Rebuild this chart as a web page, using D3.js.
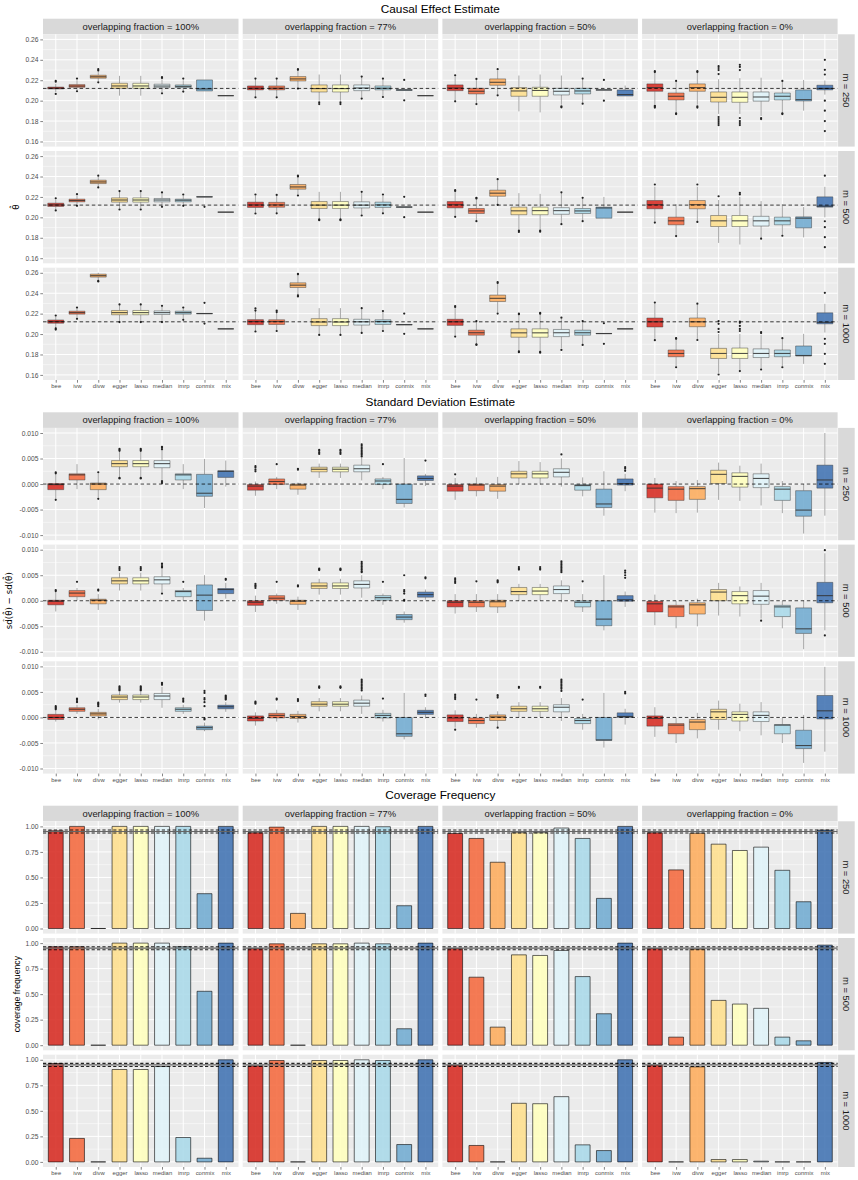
<!DOCTYPE html>
<html><head><meta charset="utf-8">
<script src="https://cdn.jsdelivr.net/npm/d3@7"></script>
<style>body{margin:0;background:#fff} svg{display:block;font-family:"Liberation Sans",Arial,Helvetica,sans-serif}</style>
</head><body><svg id="c" width="858" height="1180"></svg>
<script>
// ---------- categories ----------
const methods = ["bee","ivw","divw","egger","lasso","median","imrp","conmix","mix"];
const fractions = ["100%","77%","50%","0%"];
const mLabels = ["250","500","1000"];
const palette = ["#d73027","#f46d43","#fdae61","#fee090","#ffffbf","#e0f3f8","#abd9e9","#74add1","#4575b4"];
const sectionTitles = ["Causal Effect Estimate","Standard Deviation Estimate","Coverage Frequency"];

// ---------- tick labels ----------
const estTicks = [0.16,0.18,0.20,0.22,0.24,0.26];
const sdTicks = [-0.010,-0.005,0.000,0.005,0.010];
const covTicks = [0.00,0.25,0.50,0.75,1.00];

// ---------- reference values ----------
const estTrue = 0.212;
const sdTrue = 0;
const covBand = [0.935, 0.965];

// ---------- causal effect boxplots: [lower whisker, q1, median, q3, upper whisker, outliers] ----------
const est_m250 = [
 [[0.2085,0.2115,0.2123,0.2133,0.2165,[0.2066,0.2185,0.2195]],[0.2100,0.2131,0.2143,0.2157,0.2200,[0.2092,0.2216]],[0.2190,0.2220,0.2234,0.2249,0.2280,[0.2180,0.2295,0.2308]],[0.2049,0.2121,0.2144,0.2170,0.2243,[]],[0.2049,0.2121,0.2144,0.2170,0.2243,[]],[0.2085,0.2128,0.2143,0.2161,0.2210,[0.2072,0.2223,0.2230]],[0.2098,0.2128,0.2140,0.2154,0.2200,[0.2089,0.2216]],[0.2095,0.2095,0.2115,0.2203,0.2203,[]],[0.2049,0.2049,0.2049,0.2049,0.2049,[]]],
 [[0.2040,0.2105,0.2122,0.2144,0.2210,[0.2033,0.2216]],[0.2040,0.2105,0.2122,0.2144,0.2210,[0.2033,0.2216]],[0.2125,0.2193,0.2213,0.2236,0.2290,[0.2118,0.2302,0.2308]],[0.2000,0.2085,0.2118,0.2154,0.2256,[0.1984,0.1967]],[0.2000,0.2085,0.2118,0.2154,0.2256,[0.1984,0.1967]],[0.2030,0.2098,0.2124,0.2154,0.2230,[0.2020,0.2236]],[0.2040,0.2105,0.2122,0.2144,0.2210,[0.2036,0.2216]],[0.2100,0.2100,0.2105,0.2108,0.2108,[0.2203,0.2003]],[0.2049,0.2049,0.2049,0.2049,0.2049,[]]],
 [[0.2000,0.2098,0.2124,0.2154,0.2240,[0.1993,0.2249]],[0.1975,0.2066,0.2092,0.2121,0.2205,[0.1967,0.2213]],[0.2060,0.2151,0.2180,0.2213,0.2295,[0.2052,0.2308]],[0.1895,0.2043,0.2095,0.2128,0.2246,[]],[0.1885,0.2043,0.2100,0.2131,0.2256,[]],[0.1960,0.2056,0.2092,0.2121,0.2246,[0.1944,0.1935]],[0.1980,0.2066,0.2095,0.2121,0.2205,[0.1970,0.2216]],[0.2103,0.2103,0.2105,0.2107,0.2107,[0.2203,0.2000]],[0.2046,0.2046,0.2060,0.2105,0.2148,[]]],
 [[0.1960,0.2092,0.2128,0.2164,0.2270,[0.2289,0.2280,0.1944,0.1950,0.1932]],[0.1880,0.2007,0.2043,0.2075,0.2185,[0.1869,0.1875,0.2193]],[0.1960,0.2092,0.2128,0.2164,0.2270,[0.2289,0.2280,0.1944,0.1932]],[0.1870,0.1987,0.2033,0.2085,0.2210,[0.2338,0.2320,0.2300,0.2260,0.1840,0.1820,0.1800,0.1780,0.1761]],[0.1870,0.1984,0.2033,0.2085,0.2220,[0.2351,0.2330,0.2300,0.1830,0.1800,0.1780,0.1761]],[0.1850,0.1995,0.2036,0.2085,0.2225,[0.1830,0.1820]],[0.1880,0.2007,0.2043,0.2075,0.2190,[0.1869,0.1875,0.2193]],[0.1902,0.1997,0.2010,0.2105,0.2203,[]],[0.2059,0.2105,0.2120,0.2151,0.2197,[0.2400,0.2302,0.2256,0.2000,0.1902,0.1800,0.1702]]]
];
const est_m500 = [
 [[0.2080,0.2107,0.2122,0.2139,0.2170,[0.2068,0.2186]],[0.2120,0.2152,0.2165,0.2178,0.2215,[0.2113,0.2227]],[0.2300,0.2331,0.2347,0.2364,0.2395,[0.2293,0.2408]],[0.2085,0.2149,0.2170,0.2191,0.2250,[0.2077,0.2257]],[0.2085,0.2149,0.2170,0.2191,0.2250,[0.2077,0.2257]],[0.2110,0.2152,0.2170,0.2185,0.2235,[0.2103,0.2244]],[0.2120,0.2152,0.2168,0.2178,0.2215,[0.2113,0.2224]],[0.2199,0.2199,0.2201,0.2202,0.2202,[0.2103]],[0.2051,0.2051,0.2051,0.2051,0.2051,[]]],
 [[0.2045,0.2097,0.2122,0.2149,0.2215,[0.2038,0.2224]],[0.2045,0.2099,0.2122,0.2147,0.2210,[0.2040,0.2220]],[0.2220,0.2276,0.2298,0.2322,0.2395,[0.2214,0.2408,0.2400]],[0.1985,0.2087,0.2120,0.2155,0.2250,[0.1972,0.1980]],[0.1985,0.2087,0.2120,0.2155,0.2250,[0.1972,0.1980]],[0.2025,0.2092,0.2120,0.2152,0.2245,[0.2018,0.2250]],[0.2045,0.2097,0.2122,0.2149,0.2215,[0.2040,0.2224]],[0.2099,0.2099,0.2101,0.2103,0.2103,[0.2201,0.2002]],[0.2051,0.2051,0.2051,0.2051,0.2051,[]]],
 [[0.2010,0.2093,0.2124,0.2155,0.2250,[0.2005,0.2266,0.2258]],[0.1970,0.2038,0.2063,0.2087,0.2180,[0.1963,0.2191,0.2185]],[0.2130,0.2207,0.2237,0.2266,0.2365,[0.2123,0.2374]],[0.1880,0.2026,0.2064,0.2100,0.2237,[0.1870,0.1857]],[0.1880,0.2026,0.2066,0.2100,0.2230,[0.1870,0.1860]],[0.1935,0.2030,0.2066,0.2095,0.2240,[0.1933,0.2245]],[0.1970,0.2038,0.2063,0.2087,0.2180,[0.1963,0.2191]],[0.1992,0.1992,0.2092,0.2100,0.2200,[]],[0.2051,0.2051,0.2051,0.2051,0.2051,[]]],
 [[0.1955,0.2084,0.2124,0.2165,0.2300,[0.1949,0.2322]],[0.1825,0.1927,0.1966,0.2002,0.2129,[0.1817]],[0.1960,0.2084,0.2124,0.2165,0.2300,[0.1955,0.2322]],[0.1750,0.1910,0.1966,0.2018,0.2170,[0.2207]],[0.1734,0.1910,0.1966,0.2018,0.2200,[0.2240,0.2225]],[0.1795,0.1915,0.1966,0.2010,0.2159,[0.1791]],[0.1825,0.1927,0.1966,0.2002,0.2129,[0.1820]],[0.1804,0.1897,0.1992,0.2005,0.2101,[]],[0.2000,0.2100,0.2110,0.2201,0.2299,[0.2408,0.1962,0.1904,0.1806,0.1708]]]
];
const est_m1000 = [
 [[0.2050,0.2106,0.2122,0.2138,0.2175,[0.2044,0.2055,0.2182]],[0.2155,0.2195,0.2210,0.2224,0.2255,[0.2149,0.2260]],[0.2520,0.2558,0.2572,0.2587,0.2600,[0.2515,0.2520]],[0.2125,0.2189,0.2210,0.2231,0.2285,[0.2117,0.2290]],[0.2125,0.2189,0.2210,0.2231,0.2285,[0.2117,0.2290]],[0.2125,0.2192,0.2210,0.2227,0.2270,[0.2117,0.2277]],[0.2145,0.2195,0.2210,0.2224,0.2255,[0.2139,0.2260]],[0.2199,0.2199,0.2201,0.2202,0.2202,[0.2306,0.2103]],[0.2051,0.2051,0.2051,0.2051,0.2051,[]]],
 [[0.2030,0.2092,0.2122,0.2141,0.2240,[0.2025,0.2251,0.2230]],[0.2035,0.2094,0.2122,0.2140,0.2220,[0.2030,0.2230,0.2215]],[0.2375,0.2456,0.2479,0.2502,0.2575,[0.2368,0.2380,0.2590,0.2585]],[0.1995,0.2083,0.2118,0.2151,0.2254,[0.1992]],[0.1995,0.2083,0.2118,0.2151,0.2254,[0.1992]],[0.2015,0.2088,0.2120,0.2145,0.2245,[0.2011,0.2254]],[0.2035,0.2094,0.2122,0.2140,0.2215,[0.2030,0.2225]],[0.2090,0.2090,0.2092,0.2094,0.2094,[0.2201,0.2002]],[0.2051,0.2051,0.2051,0.2051,0.2051,[]]],
 [[0.1985,0.2085,0.2120,0.2145,0.2260,[0.1975,0.2274,0.2265]],[0.1900,0.1989,0.2013,0.2038,0.2120,[0.1894,0.1900,0.2127]],[0.2210,0.2319,0.2350,0.2381,0.2495,[0.2201,0.2509,0.2500]],[0.1830,0.1969,0.2012,0.2051,0.2190,[0.1822,0.1830,0.2201,0.2195]],[0.1825,0.1969,0.2012,0.2051,0.2195,[0.1818,0.1825,0.2207,0.2200]],[0.1860,0.1975,0.2013,0.2045,0.2150,[0.1845,0.2160]],[0.1900,0.1989,0.2013,0.2038,0.2120,[0.1894,0.2127]],[0.2004,0.2004,0.2005,0.2006,0.2006,[0.2106,0.1904]],[0.2051,0.2051,0.2051,0.2051,0.2051,[]]],
 [[0.1945,0.2069,0.2120,0.2157,0.2295,[0.1940,0.2308]],[0.1680,0.1778,0.1810,0.1844,0.1950,[0.1675,0.1960,0.1955]],[0.1950,0.2072,0.2120,0.2157,0.2290,[0.1942,0.2298]],[0.1620,0.1761,0.1810,0.1860,0.2000,[0.1604,0.2127,0.2100,0.2050,0.2020]],[0.1640,0.1761,0.1810,0.1863,0.2000,[0.1637,0.2122,0.2110,0.2080,0.2050,0.2030]],[0.1660,0.1770,0.1810,0.1855,0.1990,[0.1653,0.2019,0.2010]],[0.1680,0.1778,0.1810,0.1844,0.1950,[0.1675,0.1960]],[0.1708,0.1785,0.1790,0.1883,0.2002,[]],[0.2015,0.2100,0.2115,0.2208,0.2296,[0.2404,0.1953,0.1904,0.1806,0.1708]]]
];

// ---------- standard deviation boxplots ----------
const sd_m250 = [
 [[-0.0030,-0.0011,-0.0001,0.0001,0.0020,[0.0023,0.0021,-0.0031]],[-0.0010,0.0008,0.0018,0.0020,0.0039,[]],[-0.0027,-0.0011,0.0000,0.0002,0.0020,[0.0023,-0.0029]],[0.0014,0.0034,0.0040,0.0046,0.0064,[0.0069,0.0067,0.0065,0.0012,0.0011]],[0.0014,0.0034,0.0040,0.0046,0.0064,[0.0069,0.0067,0.0065,0.0012,0.0011]],[0.0008,0.0032,0.0040,0.0046,0.0066,[0.0073,0.0071,0.0068,0.0006,0.0004,0.0002]],[-0.0010,0.0008,0.0018,0.0020,0.0039,[]],[-0.0047,-0.0024,-0.0018,0.0019,0.0049,[]],[-0.0005,0.0013,0.0025,0.0026,0.0046,[]]],
 [[-0.0023,-0.0012,-0.0004,-0.0001,0.0005,[0.0035,0.0032,0.0028,0.0025]],[-0.0010,-0.0001,0.0005,0.0010,0.0014,[0.0039]],[-0.0021,-0.0010,-0.0002,0.0000,0.0003,[0.0030,0.0028]],[0.0012,0.0024,0.0029,0.0033,0.0040,[0.0067,0.0065,0.0062,0.0059]],[0.0012,0.0024,0.0029,0.0033,0.0040,[0.0067,0.0065,0.0062,0.0059]],[0.0007,0.0024,0.0030,0.0037,0.0052,[0.0078,0.0075,0.0072,0.0069,0.0066,0.0063,0.0060,0.0057,0.0054]],[-0.0010,-0.0001,0.0006,0.0010,0.0014,[0.0039]],[-0.0046,-0.0038,-0.0030,0.0000,0.0051,[]],[-0.0004,0.0007,0.0011,0.0016,0.0020,[0.0046]]],
 [[-0.0031,-0.0014,-0.0004,-0.0001,0.0012,[0.0019]],[-0.0024,-0.0013,-0.0002,0.0000,0.0013,[]],[-0.0029,-0.0014,-0.0004,-0.0001,0.0014,[]],[0.0000,0.0012,0.0020,0.0025,0.0045,[]],[-0.0001,0.0012,0.0020,0.0025,0.0043,[]],[-0.0005,0.0014,0.0023,0.0030,0.0050,[0.0058]],[-0.0024,-0.0012,-0.0003,-0.0001,0.0013,[]],[-0.0062,-0.0046,-0.0039,-0.0010,0.0025,[]],[-0.0014,-0.0002,0.0001,0.0010,0.0020,[0.0033,0.0030,0.0026]]],
 [[-0.0056,-0.0027,-0.0008,0.0000,0.0012,[]],[-0.0057,-0.0032,-0.0010,-0.0005,0.0006,[]],[-0.0056,-0.0030,-0.0009,-0.0005,0.0008,[]],[-0.0031,0.0001,0.0019,0.0027,0.0042,[]],[-0.0033,-0.0006,0.0015,0.0022,0.0036,[]],[-0.0042,-0.0007,0.0011,0.0020,0.0040,[]],[-0.0057,-0.0032,-0.0010,-0.0005,0.0006,[]],[-0.0097,-0.0063,-0.0051,-0.0013,0.0000,[]],[-0.0062,-0.0008,0.0008,0.0037,0.0100,[]]]
];
const sd_m500 = [
 [[-0.0021,-0.0008,-0.0001,0.0001,0.0018,[0.0021,0.0019]],[0.0000,0.0008,0.0015,0.0020,0.0025,[0.0037]],[-0.0018,-0.0006,0.0001,0.0003,0.0013,[0.0022,0.0020]],[0.0020,0.0033,0.0039,0.0045,0.0055,[0.0066,0.0063,0.0060]],[0.0020,0.0033,0.0039,0.0045,0.0055,[0.0066,0.0063,0.0060]],[0.0016,0.0033,0.0041,0.0047,0.0062,[0.0073,0.0070,0.0067,0.0065,0.0014]],[0.0000,0.0008,0.0018,0.0020,0.0025,[0.0037]],[-0.0039,-0.0019,0.0011,0.0031,0.0050,[]],[0.0004,0.0014,0.0022,0.0024,0.0035,[0.0043,0.0041]]],
 [[-0.0022,-0.0009,-0.0003,0.0000,0.0010,[0.0033,0.0030,0.0028,0.0025]],[-0.0006,0.0001,0.0005,0.0010,0.0014,[0.0037]],[-0.0018,-0.0007,-0.0001,0.0001,0.0008,[0.0030,0.0028]],[0.0012,0.0024,0.0029,0.0035,0.0043,[0.0063,0.0061,0.0060]],[0.0012,0.0024,0.0029,0.0035,0.0043,[0.0063,0.0061,0.0060]],[0.0006,0.0025,0.0032,0.0039,0.0050,[0.0076,0.0073,0.0070,0.0067,0.0064,0.0061,0.0058,0.0056]],[-0.0008,0.0001,0.0006,0.0010,0.0014,[0.0037]],[-0.0043,-0.0037,-0.0032,-0.0027,-0.0021,[0.0050,0.0021,0.0018,0.0014,0.0002,0.0000]],[0.0002,0.0007,0.0012,0.0017,0.0022,[0.0046,0.0044]]],
 [[-0.0025,-0.0012,-0.0003,0.0000,0.0013,[0.0044,0.0041,0.0038,0.0035]],[-0.0022,-0.0012,-0.0003,0.0000,0.0013,[0.0038]],[-0.0024,-0.0012,-0.0002,0.0001,0.0013,[0.0040,0.0038,0.0036]],[0.0000,0.0012,0.0018,0.0026,0.0033,[0.0066,0.0063,0.0061]],[0.0000,0.0012,0.0019,0.0026,0.0033,[0.0066,0.0063,0.0061]],[-0.0003,0.0014,0.0022,0.0029,0.0040,[0.0077,0.0074,0.0071,0.0068,0.0065,0.0062,0.0059,0.0056]],[-0.0022,-0.0012,-0.0003,0.0000,0.0013,[0.0038]],[-0.0058,-0.0049,-0.0036,0.0000,0.0050,[]],[-0.0012,-0.0001,0.0002,0.0010,0.0018,[0.0059,0.0055,0.0050,0.0045]]],
 [[-0.0048,-0.0022,-0.0006,-0.0001,0.0012,[]],[-0.0054,-0.0031,-0.0012,-0.0009,0.0000,[]],[-0.0050,-0.0026,-0.0008,-0.0004,0.0004,[]],[-0.0029,0.0000,0.0017,0.0022,0.0035,[]],[-0.0031,-0.0006,0.0010,0.0018,0.0028,[]],[-0.0035,-0.0007,0.0009,0.0020,0.0035,[-0.0039]],[-0.0054,-0.0031,-0.0012,-0.0009,0.0000,[]],[-0.0095,-0.0064,-0.0055,-0.0014,0.0000,[]],[-0.0058,-0.0004,0.0010,0.0036,0.0093,[0.0099,-0.0068]]]
];
const sd_m1000 = [
 [[-0.0008,-0.0004,0.0000,0.0006,0.0014,[0.0022,0.0020,0.0018,0.0016]],[0.0007,0.0012,0.0016,0.0019,0.0025,[0.0037,0.0035,0.0032,0.0030]],[-0.0004,0.0003,0.0007,0.0010,0.0017,[0.0029,0.0027,0.0025,0.0022]],[0.0029,0.0035,0.0040,0.0044,0.0050,[0.0061,0.0059,0.0057,0.0055,0.0053]],[0.0029,0.0035,0.0040,0.0044,0.0050,[0.0061,0.0059,0.0057,0.0055,0.0053]],[0.0019,0.0035,0.0042,0.0047,0.0060,[0.0068,0.0066,0.0064]],[0.0007,0.0012,0.0016,0.0019,0.0025,[0.0037,0.0034,0.0031]],[-0.0027,-0.0024,-0.0020,-0.0017,-0.0010,[0.0052,0.0048,0.0038,0.0035,0.0030,0.0022,-0.0002,-0.0004]],[0.0011,0.0017,0.0021,0.0024,0.0030,[0.0043,0.0041,0.0039,0.0037,0.0035]]],
 [[-0.0016,-0.0007,-0.0002,0.0003,0.0010,[0.0031,0.0029,0.0027]],[-0.0008,-0.0001,0.0004,0.0008,0.0015,[0.0037,0.0035]],[-0.0010,-0.0002,0.0002,0.0006,0.0013,[0.0036,0.0034,0.0032]],[0.0012,0.0022,0.0026,0.0031,0.0038,[0.0061,0.0059,0.0058]],[0.0012,0.0022,0.0026,0.0031,0.0038,[0.0061,0.0059,0.0058]],[0.0007,0.0022,0.0028,0.0034,0.0043,[0.0074,0.0071,0.0068,0.0065,0.0062,0.0059,0.0056,0.0053]],[-0.0008,-0.0001,0.0004,0.0008,0.0015,[0.0037]],[-0.0043,-0.0037,-0.0032,0.0000,0.0048,[]],[-0.0002,0.0006,0.0010,0.0014,0.0020,[0.0045,0.0042]]],
 [[-0.0020,-0.0008,-0.0001,0.0005,0.0014,[0.0045,0.0042,0.0039,0.0036,-0.0024]],[-0.0020,-0.0012,-0.0006,-0.0001,0.0007,[0.0035]],[-0.0020,-0.0006,0.0001,0.0005,0.0012,[0.0044,0.0042,0.0039,-0.0020]],[0.0000,0.0012,0.0017,0.0022,0.0030,[0.0060,0.0058]],[0.0000,0.0012,0.0017,0.0022,0.0030,[0.0060,0.0058]],[-0.0007,0.0011,0.0020,0.0025,0.0038,[0.0074,0.0071,0.0068,0.0065,0.0062,0.0059,0.0056,0.0052]],[-0.0024,-0.0012,-0.0006,-0.0002,0.0007,[0.0035]],[-0.0059,-0.0045,-0.0044,0.0000,0.0048,[]],[-0.0014,0.0000,0.0002,0.0009,0.0017,[0.0050,0.0047]]],
 [[-0.0038,-0.0017,-0.0002,0.0003,0.0020,[]],[-0.0050,-0.0032,-0.0015,-0.0012,0.0000,[]],[-0.0041,-0.0024,-0.0009,-0.0004,0.0009,[]],[-0.0024,-0.0004,0.0011,0.0016,0.0033,[]],[-0.0027,-0.0007,0.0006,0.0011,0.0027,[]],[-0.0035,-0.0008,0.0004,0.0011,0.0030,[]],[-0.0050,-0.0032,-0.0015,-0.0014,0.0000,[]],[-0.0089,-0.0061,-0.0055,-0.0025,0.0005,[]],[-0.0067,-0.0003,0.0013,0.0043,0.0099,[]]]
];

// ---------- coverage frequency bars (one row per overlapping fraction) ----------
const cov_m250 = [
 [0.957,1.000,0.000,1.000,1.000,1.000,1.000,0.341,1.000],
 [0.938,0.993,0.148,1.000,1.000,1.000,0.997,0.223,1.000],
 [0.931,0.882,0.649,0.938,0.938,0.984,0.882,0.295,1.000],
 [0.938,0.574,0.934,0.826,0.764,0.797,0.570,0.262,0.964]
];
const cov_m500 = [
 [0.964,0.964,0.000,1.000,1.000,1.000,0.964,0.528,1.000],
 [0.948,0.993,0.000,0.993,0.993,1.000,0.993,0.161,1.000],
 [0.948,0.666,0.177,0.885,0.879,0.928,0.672,0.308,1.000],
 [0.948,0.079,0.941,0.439,0.403,0.361,0.079,0.043,0.980]
];
const cov_m1000 = [
 [0.964,0.230,0.000,0.905,0.905,0.934,0.239,0.036,1.000],
 [0.941,0.993,0.000,0.993,0.993,1.000,0.993,0.170,1.000],
 [0.948,0.161,0.000,0.574,0.570,0.639,0.167,0.111,1.000],
 [0.948,0.000,0.931,0.023,0.023,0.007,0.000,0.000,0.974]
];

// ---------- layout ----------
const svg = d3.select("#c");
const panelX0 = 43, panelW = 195.5, colGap = 4.2;
const panelH = 112.3, rowGap = 4.4, stripH = 15.6, rStripW = 16.6;
const FONT_TICK = 6.7, FONT_X = 5.9, FONT_STRIP = 9.4, FONT_TITLE = 11.8, FONT_YLAB = 8.7;

const x = d3.scalePoint().domain(methods).range([0, panelW]).padding(0.6);
const step = x.step();

const sections = [
  { title: sectionTitles[0], stripTop: 18.7, titleY: 12.5, type: "box", data: [est_m250, est_m500, est_m1000],
    domain: [0.155, 0.265], ticks: estTicks, fmt: d3.format(".2f"), refs: [estTrue], ylabel: "θ\u0302", ylabX: 19 },
  { title: sectionTitles[1], stripTop: 412.3, titleY: 406, type: "box", data: [sd_m250, sd_m500, sd_m1000],
    domain: [-0.011, 0.011], ticks: sdTicks, fmt: v => d3.format(".3f")(v).replace("−","-"), refs: [sdTrue], ylabel: "sd\u0302(θ\u0302) − sd(θ\u0302)", ylabX: 12 },
  { title: sectionTitles[2], stripTop: 805.7, titleY: 799.3, type: "bar", data: [cov_m250, cov_m500, cov_m1000],
    domain: [-0.05, 1.05], ticks: covTicks, fmt: d3.format(".2f"), refs: covBand, ylabel: "coverage frequency", ylabX: 20 }
];

sections.forEach(sec => {
  const g = svg.append("g");
  const rowsTop = sec.stripTop + stripH;
  const panelsRight = panelX0 + 4 * panelW + 3 * colGap;
  // title
  g.append("text").attr("x", (panelX0 + panelsRight) / 2).attr("y", sec.titleY)
    .attr("text-anchor", "middle").attr("font-size", FONT_TITLE).attr("fill", "#000").text(sec.title);
  // y-axis title
  const midY = rowsTop + (3 * panelH + 2 * rowGap) / 2;
  g.append("text").attr("transform", `translate(${sec.ylabX},${midY}) rotate(-90)`)
    .attr("text-anchor", "middle").attr("font-size", FONT_YLAB).attr("fill", "#000")
    .attr("font-family", sec.type === "bar" ? null : "DejaVu Sans, Liberation Sans, sans-serif")
    .text(sec.ylabel);

  // column strips
  fractions.forEach((f, c) => {
    const px = panelX0 + c * (panelW + colGap);
    g.append("rect").attr("x", px).attr("y", sec.stripTop).attr("width", panelW).attr("height", stripH).attr("fill", "#d9d9d9");
    g.append("text").attr("x", px + panelW / 2).attr("y", sec.stripTop + stripH / 2 + 3.3)
      .attr("text-anchor", "middle").attr("font-size", FONT_STRIP).attr("fill", "#1a1a1a")
      .text("overlapping fraction = " + f);
  });

  mLabels.forEach((mLab, r) => {
    const py = rowsTop + r * (panelH + rowGap);
    const y = d3.scaleLinear().domain(sec.domain).range([py + panelH, py]);
    // right strip
    g.append("rect").attr("x", panelsRight + 0.5).attr("y", py).attr("width", rStripW).attr("height", panelH).attr("fill", "#d9d9d9");
    g.append("text").attr("transform", `translate(${panelsRight + 0.5 + rStripW / 2 - 3.3},${py + panelH / 2}) rotate(90)`)
      .attr("text-anchor", "middle").attr("font-size", FONT_STRIP).attr("fill", "#1a1a1a").text("m = " + mLab);

    // y axis (left)
    const ax = g.append("g").attr("transform", `translate(${panelX0},0)`)
      .call(d3.axisLeft(y).tickValues(sec.ticks).tickFormat(sec.fmt).tickSize(2.7).tickPadding(1.8));
    ax.select(".domain").remove();
    ax.selectAll("line").attr("stroke", "#333").attr("stroke-width", 0.6);
    ax.selectAll("text").attr("font-size", FONT_TICK).attr("fill", "#4d4d4d").attr("font-family", "Liberation Sans, Arial, sans-serif");

    const minors = sec.ticks.slice(0, -1).map((t, i) => (t + sec.ticks[i + 1]) / 2);

    fractions.forEach((f, c) => {
      const px = panelX0 + c * (panelW + colGap);
      const pg = g.append("g").attr("transform", `translate(${px},0)`);
      pg.append("rect").attr("x", 0).attr("y", py).attr("width", panelW).attr("height", panelH).attr("fill", "#ebebeb");
      // grid
      pg.selectAll(".mn").data(minors).enter().append("line")
        .attr("x1", 0).attr("x2", panelW).attr("y1", d => y(d)).attr("y2", d => y(d))
        .attr("stroke", "#fff").attr("stroke-width", 0.5);
      pg.selectAll(".mj").data(sec.ticks).enter().append("line")
        .attr("x1", 0).attr("x2", panelW).attr("y1", d => y(d)).attr("y2", d => y(d))
        .attr("stroke", "#fff").attr("stroke-width", 1);
      pg.selectAll(".vx").data(methods).enter().append("line")
        .attr("x1", d => x(d)).attr("x2", d => x(d)).attr("y1", py).attr("y2", py + panelH)
        .attr("stroke", "#fff").attr("stroke-width", 1);

      const panelData = sec.data[r][c];
      if (sec.type === "box") {
        const bw = step * 0.75;
        methods.forEach((m, i) => {
          const [lo, q1, med, q3, hi, outs] = panelData[i];
          const cx = x(m);
          pg.append("line").attr("x1", cx).attr("x2", cx).attr("y1", y(hi)).attr("y2", y(q3))
            .attr("stroke", "#333").attr("stroke-opacity", 0.6).attr("stroke-width", 0.7);
          pg.append("line").attr("x1", cx).attr("x2", cx).attr("y1", y(q1)).attr("y2", y(lo))
            .attr("stroke", "#333").attr("stroke-opacity", 0.6).attr("stroke-width", 0.7);
          pg.append("path")
            .attr("d", `M${cx - bw / 2},${y(q3)}H${cx + bw / 2}V${y(q1)}H${cx - bw / 2}Z`)
            .attr("fill", palette[i]).attr("fill-opacity", 0.9)
            .attr("stroke", "#333").attr("stroke-opacity", 0.55).attr("stroke-width", 0.8);
          pg.append("line").attr("x1", cx - bw / 2).attr("x2", cx + bw / 2).attr("y1", y(med)).attr("y2", y(med))
            .attr("stroke", "#333").attr("stroke-opacity", 0.85).attr("stroke-width", 1.1);
          pg.selectAll(null).data(outs).enter().append("circle")
            .attr("cx", cx).attr("cy", d => y(d)).attr("r", 1.1).attr("fill", "#222");
        });
      } else {
        const bw = step * 0.7;
        methods.forEach((m, i) => {
          const v = panelData[i];
          const cx = x(m);
          pg.append("path")
            .attr("d", `M${cx - bw / 2},${y(v)}H${cx + bw / 2}V${y(0)}H${cx - bw / 2}Z`)
            .attr("fill", palette[i]).attr("fill-opacity", 0.9)
            .attr("stroke", "#000").attr("stroke-opacity", 0.65).attr("stroke-width", 0.9);
        });
      }
      // reference lines
      if (sec.type === "bar") {
        pg.append("line").attr("x1", 0).attr("x2", panelW).attr("y1", y(0.95)).attr("y2", y(0.95))
          .attr("stroke", "#666").attr("stroke-width", 1.2);
      }
      sec.refs.forEach(v => {
        pg.append("line").attr("x1", 0).attr("x2", panelW).attr("y1", y(v)).attr("y2", y(v))
          .attr("stroke", "#000").attr("stroke-width", sec.type === "bar" ? 1.1 : 0.9)
          .attr("stroke-dasharray", sec.type === "bar" ? "3.2,2.2" : "3.5,2.6").attr("stroke-opacity", 0.85);
      });

      // x axis under last row
      if (r === mLabels.length - 1) {
        const xa = pg.append("g").attr("transform", `translate(0,${py + panelH})`)
          .call(d3.axisBottom(x).tickSize(2.7).tickPadding(1.2));
        xa.select(".domain").remove();
        xa.selectAll("line").attr("stroke", "#333").attr("stroke-width", 0.6);
        xa.selectAll("text").attr("font-size", FONT_X).attr("fill", "#4d4d4d").attr("font-family", "Liberation Sans, Arial, sans-serif");
      }
    });
  });
});
</script></body></html>
